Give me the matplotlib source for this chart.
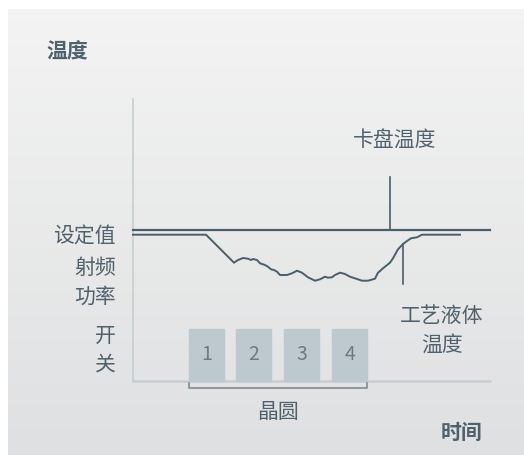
"""Temperature diagram: chuck temperature vs process fluid temperature with wafer steps"""

import numpy as np
import matplotlib
matplotlib.use('Agg')
import matplotlib.pyplot as plt

plt.rcParams['font.family'] = ['Noto Sans CJK SC', 'DejaVu Sans']

W, H = 524, 455

# Process fluid temperature trace (x, y in picture pixels)
fluid_x = [133, 206, 234, 238, 243, 248, 251, 253, 257, 260, 265, 268, 271, 274, 277, 280,
           287, 292, 297, 302, 308, 315, 320, 325, 328, 332, 335, 340, 345, 350, 357, 362,
           368, 375, 378, 383, 390, 393, 398, 403, 407, 411, 417, 422, 460]
fluid_y = [234.7, 234.7, 262.7, 260, 258, 258.7, 260, 259, 260, 263.3, 265, 266.7, 269.3, 270,
           271.7, 275, 275, 273.3, 270.7, 272.7, 277.3, 280.7, 279.3, 276.7, 277.7, 277.3, 275,
           272.7, 274, 276.7, 279, 280.7, 280.7, 278.7, 272.7, 268.3, 262.7, 258.3, 249.3, 244,
           241, 238.3, 237.3, 234.7, 234.7]

# Chuck temperature (set value line)
chuck_y = 230
chuck_x = [133, 490]

# Wafers
wafer_labels = ['1', '2', '3', '4']
wafer_left = [189, 236.3, 284.3, 332.3]
wafer_width = 34.5
wafer_top, wafer_bottom = 329.3, 381

DARK = '#4b5e69'
TEXT = '#4f616c'
AXIS = '#c6cdd3'
FS = 15

fig = plt.figure(figsize=(W / 100, H / 100), dpi=100)
ax = fig.add_axes([0, 0, 1, 1])
ax.set_xlim(0, W)
ax.set_ylim(H, 0)
ax.axis('off')

# background: white margin + vertical grey gradient
ax.add_patch(plt.Rectangle((0, 0), W, H, color='white', zorder=0))
grad = np.linspace(0, 1, 256).reshape(-1, 1)
top = np.array([0.955, 0.955, 0.955])
bottom = np.array([0.875, 0.878, 0.882])
img = top + (bottom - top) * grad[..., None]
ax.imshow(img, extent=(8, W, H, 9), aspect='auto', zorder=0.5)

# axes
ax.plot([133, 133], [99, 381], color=AXIS, lw=1.2, zorder=2)
ax.plot([133, 490], [381, 381], color=AXIS, lw=1.8, zorder=2)

# wafers
for left, label in zip(wafer_left, wafer_labels):
    ax.add_patch(plt.Rectangle((left, wafer_top), wafer_width, wafer_bottom - wafer_top,
                               color='#bec9cf', zorder=3))
    ax.text(left + wafer_width / 2, 355, label, ha='center', va='center', fontsize=14,
            color='#6b7a83', fontweight='light', zorder=4)

# wafer bracket
bx0, bx1 = wafer_left[0], wafer_left[-1] + wafer_width
ax.plot([bx0, bx0, bx1, bx1], [383, 387.5, 387.5, 383], color='#7d8c95', lw=1.2, zorder=3)
ax.text((bx0 + bx1) / 2, 412, '晶圆', ha='center', va='center', fontsize=FS, color=TEXT)

# chuck temperature line and pointer
ax.plot(chuck_x, [chuck_y, chuck_y], color=DARK, lw=1.6, zorder=5)
ax.plot([390, 390], [177, chuck_y], color=DARK, lw=1.2, zorder=5)
ax.text(395, 141, '卡盘温度', ha='center', va='center', fontsize=FS, color=TEXT)

# process fluid trace and pointer
ax.plot(fluid_x, fluid_y, color=DARK, lw=1.4, zorder=5, solid_joinstyle='round')
ax.plot([402.5, 402.5], [244, 284], color=DARK, lw=1.2, zorder=5)
ax.text(442, 316, '工艺液体', ha='center', va='center', fontsize=FS, color=TEXT)
ax.text(442, 345, '温度', ha='center', va='center', fontsize=FS, color=TEXT)

# left labels
for y, s in [(237, '设定值'), (268, '射频'), (297, '功率'), (336, '开'), (365, '关')]:
    ax.text(116, y, s, ha='right', va='center', fontsize=FS, color=TEXT)

ax.text(46, 52, '温度', ha='left', va='center', fontsize=FS, color=TEXT, fontweight='bold')
ax.text(482, 432, '时间', ha='right', va='center', fontsize=FS, color=TEXT, fontweight='bold')

fig.savefig('out.png', dpi=100)
